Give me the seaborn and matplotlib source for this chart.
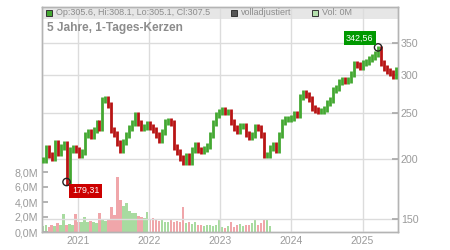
import numpy as np
import pandas as pd
import matplotlib
matplotlib.use("Agg")
import matplotlib.pyplot as plt
import matplotlib.dates as mdates
from matplotlib.patches import Rectangle
from matplotlib.ticker import FixedLocator, NullLocator, FuncFormatter
import seaborn as sns

closes = [
    199.5, 211.3, 204.3, 201.4, 216.5, 206.3, 212.3, 215.4, 179.3, 209.3,
    211.3, 209.3, 204.3, 207.3, 224.9, 228.2, 223.8, 230.4, 238.3, 232.6,
    266.3, 267.6, 260.0, 230.4, 226.0, 216.5, 209.3, 217.5, 224.9, 232.6,
    238.3, 247.8, 238.3, 232.6, 233.8, 237.2, 233.8, 230.4, 224.9, 219.6,
    228.2, 239.5, 240.6, 238.3, 212.3, 207.3, 201.4, 197.6, 203.4, 197.6,
    209.3, 214.3, 209.3, 208.3, 210.3, 213.3, 224.9, 238.3, 247.8, 251.4,
    253.8, 251.4, 251.4, 239.5, 232.6, 229.3, 234.9, 234.9, 226.0, 222.8,
    224.9, 233.8, 232.6, 224.9, 204.3, 204.3, 211.3, 214.3, 209.3, 224.9,
    239.5, 242.9, 242.9, 244.1, 249.0, 247.8, 270.2, 275.4, 272.8, 267.6,
    256.3, 253.8, 252.6, 252.6, 255.1, 262.5, 266.3, 279.4, 282.1, 290.3,
    293.1, 291.7, 293.1, 301.7, 316.4, 314.9, 311.9, 317.9, 319.4, 324.1,
    327.2, 332.0, 340.0, 317.9, 310.5, 306.0, 303.1, 298.8, 307.5,
]

# Volumen in Mio. Stück (nur bis Herbst 2023 vorhanden)
volumes = [
    0.8, 0.9, 0.7, 1.0, 0.8, 1.2, 0.9, 2.4, 1.0, 1.1,
    0.9, 2.4, 1.3, 1.4, 2.0, 1.3, 1.5, 1.4, 1.2, 2.5,
    1.6, 1.5, 1.7, 3.3, 2.3, 7.3, 4.3, 3.5, 3.9, 2.8,
    2.5, 2.6, 2.2, 2.0, 1.9, 2.7, 1.8, 1.9, 1.6, 1.5,
    1.7, 1.4, 1.3, 1.6, 1.4, 1.5, 1.3, 3.4, 1.2, 1.4,
    1.1, 1.3, 1.0, 0.9, 0.8, 1.0, 0.9, 0.8, 0.9, 1.6,
    0.7, 0.6, 0.8, 1.3, 0.7, 0.9, 1.1, 0.8, 0.9, 1.0,
    1.2, 1.7, 0.9, 1.2, 1.8, 1.6, 0.8,
]

low_idx, low_val = 8, 179.31
high_idx, high_val = 112, 342.56

price_ticks = [150, 200, 250, 300, 350]
vol_ticks = [0, 2, 4, 6, 8]

dates = pd.date_range("2020-07-04", "2025-06-22", periods=len(closes))

GREEN = "#44a832"
RED = "#b81414"
VGREEN = "#a8dba0"
VRED = "#f0a6aa"
GRID = "#dcdcdc"
TXT = "#9a9a9a"

sns.set_theme(style="white")
plt.rcParams["font.family"] = ["Liberation Sans", "DejaVu Sans"]

fig = plt.figure(figsize=(4.5, 2.5), dpi=100)
ax_v = fig.add_axes([42 / 450, 18 / 250, 356 / 450, 225 / 250])
ax_p = ax_v.twinx()

# Kopfzeile
ax_v.add_patch(Rectangle((0, 1 - 12 / 225), 1, 12 / 225, transform=ax_v.transAxes,
                         facecolor="#e6e6e6", edgecolor="none", zorder=0.1))

opens = np.array([closes[0]] + closes[:-1])
cl = np.array(closes)
up = cl >= opens

# Volumen
vdates = dates[:len(volumes)]
ax_v.bar(vdates, volumes, width=11, color=np.where(up[:len(volumes)], VGREEN, VRED),
         linewidth=0, zorder=1)
ax_v.set_ylim(0, 30)
ax_v.yaxis.set_major_locator(FixedLocator(vol_ticks))
ax_v.yaxis.set_major_formatter(FuncFormatter(lambda v, p: f"{v:.1f}M".replace(".", ",")))

# Kerzen
lo = np.minimum(opens, cl) * 0.985
hi = np.maximum(opens, cl) * 1.015
ax_p.vlines(dates, lo, hi, colors=np.where(up, GREEN, RED), linewidth=2.0, zorder=3)

ax_p.set_yscale("log")
ax_p.set_ylim(141, 416)
ax_p.yaxis.set_major_locator(FixedLocator(price_ticks))
ax_p.yaxis.set_minor_locator(NullLocator())
ax_p.yaxis.set_major_formatter(FuncFormatter(lambda v, p: f"{v:.0f}"))
ax_p.grid(axis="y", color=GRID, linewidth=1)

ax_v.set_xlim(pd.Timestamp("2020-07-01"), pd.Timestamp("2025-07-02"))
ax_v.xaxis.set_major_locator(mdates.YearLocator())
ax_v.xaxis.set_major_formatter(mdates.DateFormatter("%Y"))
ax_v.set_axisbelow(False)
ax_v.grid(axis="x", color=GRID, linewidth=1)
ax_v.grid(axis="y", visible=False)

for a in (ax_v, ax_p):
    for s in a.spines.values():
        s.set_color("#b4b4b4")
        s.set_linewidth(1)

ax_v.tick_params(axis="y", left=True, direction="in", length=4, color="#aaaaaa",
                 labelcolor=TXT, labelsize=7.7, pad=3)
ax_v.tick_params(axis="x", bottom=True, length=0, labelcolor=TXT, labelsize=7.5, pad=3)
ax_p.tick_params(axis="y", right=True, direction="in", length=4, color="#aaaaaa",
                 labelcolor=TXT, labelsize=7.7, pad=2)

# Extremwerte
sns.scatterplot(x=[dates[low_idx], dates[high_idx]], y=[low_val, high_val], ax=ax_p,
                s=28, color="none", edgecolor="#222222", linewidth=1, zorder=5)
ax_p.annotate("179,31", xy=(dates[low_idx], low_val), xytext=(13.7, -6.3),
              textcoords="offset points", ha="center", va="center", color="white",
              fontsize=6.4, zorder=6,
              bbox=dict(boxstyle="square,pad=0.28", fc="#cc0000", ec="none"))
ax_p.annotate("342,56", xy=(dates[high_idx], high_val), xytext=(-13.2, 6.6),
              textcoords="offset points", ha="center", va="center", color="white",
              fontsize=6.4, zorder=6,
              bbox=dict(boxstyle="square,pad=0.28", fc="#009900", ec="none"))

# Legende in der Kopfzeile
fy = 1 - 6 / 225
legend_items = [
    (0.021, GREEN, "Op:305.6, Hi:308.1, Lo:305.1, Cl:307.5"),
    (0.539, "#555555", "volladjustiert"),
    (0.767, "#b5e0ad", "Vol: 0M"),
]
for fx, c, label in legend_items:
    ax_p.plot([fx], [fy], marker="s", ms=5, mfc=c, mec="#333333", mew=0.7,
              transform=ax_p.transAxes, clip_on=False, zorder=6)
    ax_p.text(fx + 0.019, fy, label, transform=ax_p.transAxes, ha="left", va="center",
              fontsize=6.5, color="#8c8c8c", zorder=6)

ax_p.text(0.014, 1 - 21 / 225, "5 Jahre, 1-Tages-Kerzen", transform=ax_p.transAxes,
          ha="left", va="center", fontsize=8.6, fontweight="bold", color="#8c8c8c")

fig.savefig("out.png", dpi=100)
